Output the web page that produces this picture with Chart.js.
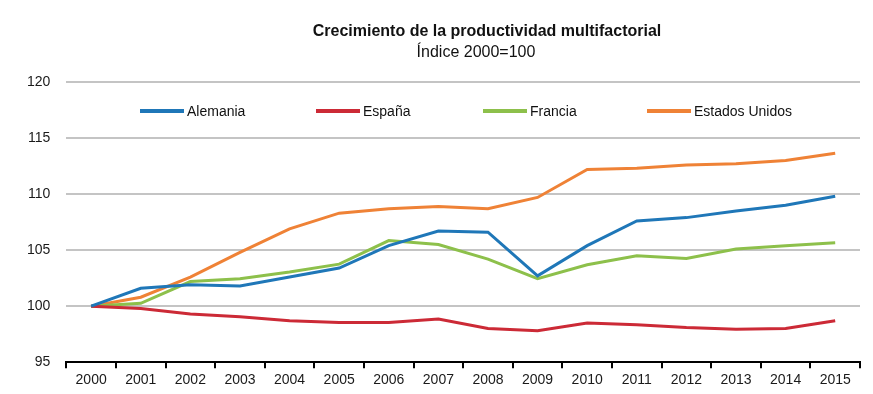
<!DOCTYPE html>
<html lang="es">
<head>
    <meta charset="UTF-8">
    <title>Productividad multifactorial</title>
    <script src="https://cdn.jsdelivr.net/npm/chart.js"></script>
    <style>
        html, body { margin: 0; padding: 0; background: #fff; }
        #grafico-box { width: 873px; height: 394px; }
    </style>
</head>
<body>
    <div id="grafico-box"><canvas id="graficoPTF"></canvas></div>

<script>
    // Datos (índice 2000=100)
    const anos = ['2000', '2001', '2002', '2003', '2004', '2005', '2006', '2007',
        '2008', '2009', '2010', '2011', '2012', '2013', '2014', '2015'];
    const alemania = [100, 101.6, 101.9, 101.8, 102.6, 103.4, 105.4, 106.7, 106.6, 102.7, 105.4, 107.6, 107.9, 108.5, 109.0, 109.8];
    const espana = [100, 99.8, 99.3, 99.05, 98.7, 98.55, 98.55, 98.85, 98.0, 97.8, 98.5, 98.35, 98.1, 97.95, 98.0, 98.7];
    const francia = [100, 100.25, 102.2, 102.45, 103.05, 103.75, 105.85, 105.5, 104.2, 102.45, 103.7, 104.5, 104.25, 105.1, 105.4, 105.65];
    const eeuu = [100, 100.8, 102.6, 104.8, 106.9, 108.3, 108.7, 108.9, 108.7, 109.7, 112.2, 112.3, 112.6, 112.7, 113.0, 113.65];
    const ticksY = [95, 100, 105, 110, 115, 120];

    const fuente = '"Liberation Sans", Arial, sans-serif';
    Chart.defaults.font.family = fuente;
    Chart.defaults.color = '#1a1a1a';

    // título y leyenda dibujados a mano (la leyenda va dentro del área del gráfico)
    const extras = {
        id: 'extras',
        afterDraw(chart) {
            const ctx = chart.ctx;
            ctx.save();
            ctx.fillStyle = '#111';
            ctx.textAlign = 'center';
            ctx.textBaseline = 'middle';
            ctx.font = 'bold 16px ' + fuente;
            ctx.fillText('Crecimiento de la productividad multifactorial', 487, 32);
            ctx.font = '16px ' + fuente;
            ctx.fillText('Índice 2000=100', 476, 53);

            const xs = [140, 316, 483, 647];
            ctx.textAlign = 'left';
            ctx.font = '14px ' + fuente;
            chart.data.datasets.forEach((ds, i) => {
                ctx.strokeStyle = ds.borderColor;
                ctx.lineWidth = 4;
                ctx.beginPath();
                ctx.moveTo(xs[i], 111);
                ctx.lineTo(xs[i] + 44, 111);
                ctx.stroke();
                ctx.fillStyle = '#111';
                ctx.fillText(ds.label, xs[i] + 47, 112);
            });
            ctx.restore();
        }
    };

    const serie = (label, data, color) => ({
        label: label,
        data: data,
        borderColor: color,
        backgroundColor: color,
        borderWidth: 3,
        pointRadius: 0,
        fill: false,
        tension: 0
    });

    new Chart(document.getElementById('graficoPTF'), {
        type: 'line',
        data: {
            labels: anos,
            datasets: [
                serie('Alemania', alemania, '#1f77b8'),
                serie('España', espana, '#cc2a36'),
                serie('Francia', francia, '#8dc04b'),
                serie('Estados Unidos', eeuu, '#ef8236')
            ]
        },
        options: {
            responsive: true,
            maintainAspectRatio: false,
            animation: false,
            layout: { padding: { top: 82, left: 11, right: 13, bottom: 1 } },
            plugins: {
                legend: { display: false },
                title: { display: false },
                tooltip: { enabled: false }
            },
            scales: {
                x: {
                    offset: true,
                    grid: {
                        offset: true,
                        drawOnChartArea: false,
                        drawTicks: true,
                        tickLength: 6,
                        color: '#000',
                        lineWidth: 2
                    },
                    border: { display: true, color: '#000', width: 2 },
                    ticks: { font: { size: 14 }, color: '#1a1a1a', padding: 4, maxRotation: 0, autoSkip: false }
                },
                y: {
                    min: 95,
                    max: 120,
                    afterBuildTicks: (axis) => { axis.ticks = ticksY.map(v => ({ value: v })); },
                    grid: { color: '#c4c4c4', lineWidth: 2, drawTicks: false },
                    border: { display: false },
                    ticks: { font: { size: 14 }, color: '#1a1a1a', padding: 16 }
                }
            }
        },
        plugins: [extras]
    });
</script>
</body>
</html>
